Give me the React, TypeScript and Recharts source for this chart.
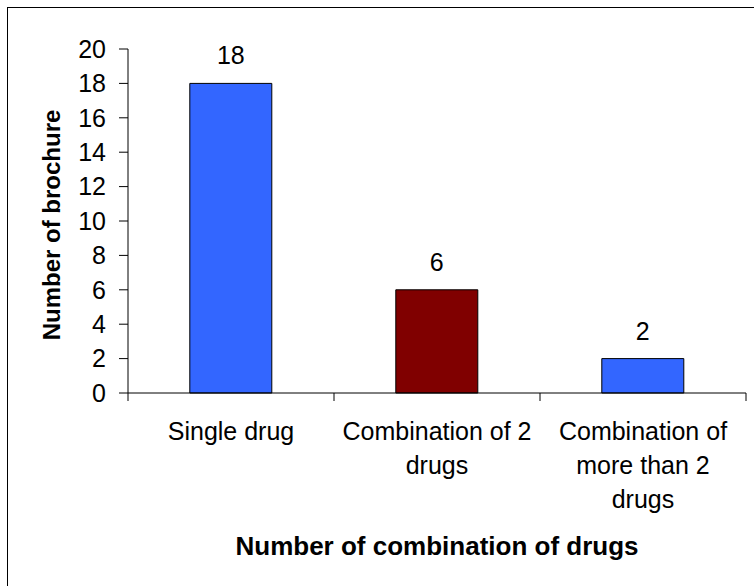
import React from 'react';
import { BarChart, Bar, XAxis, YAxis, Cell, LabelList, Label } from 'recharts';

const categories = ['Single drug', 'Combination of 2 drugs', 'Combination of more than 2 drugs'];
// wrapped lines for each category label
const categoryLines = [['Single drug'], ['Combination of 2', 'drugs'], ['Combination of', 'more than 2', 'drugs']];
const brochureCounts = [18, 6, 2];
const barColors = ['#3366FF', '#800000', '#3366FF'];
const yTicks = [0, 2, 4, 6, 8, 10, 12, 14, 16, 18, 20];

const data = categories.map((name, i) => ({ name, count: brochureCounts[i] }));

const FONT = 'Arial, "Liberation Sans", sans-serif';
const FS = 25;

// category tick: multi-line label plus Excel-style tick marks on the band edges
function CategoryTick(props: any) {
  const { x, y, payload, index, width, visibleTicksCount } = props;
  const bw = width / visibleTicksCount;
  const lines = categoryLines[index] ?? [payload.value];
  return (
    <g>
      <line x1={x - bw / 2} x2={x - bw / 2} y1={y} y2={y + 8} stroke="#000" />
      {index === visibleTicksCount - 1 && (
        <line x1={x + bw / 2} x2={x + bw / 2} y1={y} y2={y + 8} stroke="#000" />
      )}
      <text x={x} y={y + 47} textAnchor="middle" fontFamily={FONT} fontSize={FS} fill="#000">
        {lines.map((l: string, i: number) => (
          <tspan key={i} x={x} dy={i === 0 ? 0 : 34}>{l}</tspan>
        ))}
      </text>
    </g>
  );
}

export default function App() {
  return (
    <div style={{ position: 'fixed', left: 0, top: 0, width: 754, height: 586, overflow: 'hidden', background: '#fff' }}>
      {/* chart frame, runs past the right and bottom edges */}
      <div
        style={{
          position: 'absolute',
          left: 7,
          top: 7,
          width: 800,
          height: 700,
          border: '1px solid #000',
          boxSizing: 'border-box',
        }}
      />
      <div style={{ position: 'absolute', left: 0, top: 0 }}>
        <BarChart
          width={754}
          height={586}
          data={data}
          margin={{ top: 49, right: 8, left: 0, bottom: 93 }}
          barCategoryGap="30%"
        >
          <XAxis
            dataKey="name"
            height={100}
            interval={0}
            stroke="#000"
            tickSize={0}
            tickMargin={0}
            tick={<CategoryTick />}
          >
            <Label
              content={(p: any) => {
                const vb = p.viewBox;
                return (
                  <text
                    x={vb.x + vb.width / 2}
                    y={555}
                    textAnchor="middle"
                    fontFamily={FONT}
                    fontSize={26}
                    fontWeight="bold"
                    fill="#000"
                  >
                    Number of combination of drugs
                  </text>
                );
              }}
            />
          </XAxis>
          <YAxis
            width={128}
            domain={[0, 20]}
            ticks={yTicks}
            interval={0}
            stroke="#000"
            tickSize={9}
            tickMargin={13}
            tick={{ fontFamily: FONT, fontSize: FS, fill: '#000' }}
          >
            <Label
              content={(p: any) => {
                const vb = p.viewBox;
                const cy = vb.y + vb.height / 2 + 4;
                return (
                  <text
                    x={51}
                    y={cy}
                    transform={`rotate(-90, 51, ${cy})`}
                    textAnchor="middle"
                    dominantBaseline="central"
                    fontFamily={FONT}
                    fontSize={24}
                    fontWeight="bold"
                    fill="#000"
                  >
                    Number of brochure
                  </text>
                );
              }}
            />
          </YAxis>
          <Bar dataKey="count" stroke="#000" strokeWidth={1} isAnimationActive={false}>
            {data.map((d, i) => (
              <Cell key={d.name} fill={barColors[i]} />
            ))}
            <LabelList dataKey="count" position="top" offset={19} fontFamily={FONT} fontSize={FS} fill="#000" />
          </Bar>
        </BarChart>
      </div>
    </div>
  );
}
